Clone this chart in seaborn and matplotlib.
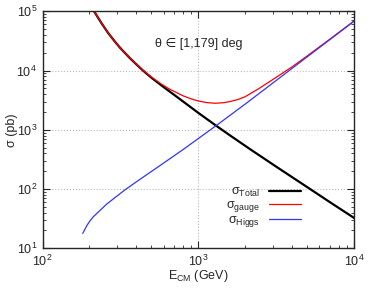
import matplotlib
matplotlib.use("Agg")
import numpy as np
import pandas as pd
import seaborn as sns
import matplotlib.pyplot as plt

# values (E in GeV, sigma in pb)
E_total = [214, 227, 240, 264, 290, 313, 364, 440, 500, 580, 658, 800, 1000, 1280, 1600, 2148, 3162, 5000, 7000, 10000]
sig_total = [1.0e5, 7.78e4, 6.17e4, 4.27e4, 3.12e4, 2.45e4, 1.61e4, 1.005e4, 7.57e3, 5.6e3, 4.38e3, 2.99e3,
             1.93e3, 1.21e3, 8.02e2, 4.72e2, 2.39e2, 1.08e2, 6.01e1, 3.26e1]

E_gauge = [214, 227, 240, 264, 290, 313, 364, 440, 500, 580, 658, 800, 900, 1000, 1130, 1280, 1450, 1600,
           1800, 2000, 2430, 3162, 4000, 4966, 7000, 10000]
sig_gauge = [1.0e5, 7.78e4, 6.17e4, 4.27e4, 3.12e4, 2.45e4, 1.614e4, 1.014e4, 7.74e3, 5.89e3, 4.81e3, 3.73e3,
             3.32e3, 3.06e3, 2.88e3, 2.805e3, 2.864e3, 3.0e3, 3.25e3, 3.62e3, 4.9e3, 7.674e3, 1.153e4,
             1.738e4, 3.388e4, 6.855e4]

E_higgs = [181, 192, 200, 211, 258, 338, 422, 552, 800, 1280, 2000, 3162, 5000, 7000, 10000]
sig_higgs = [17.9, 24.0, 28.3, 33.8, 55.8, 97.0, 146, 237, 466, 1138, 2716, 6792, 16980, 33270, 67920]

sns.set_style("ticks")
plt.rcParams["font.family"] = ["Liberation Sans", "DejaVu Sans"]
plt.rcParams["mathtext.fontset"] = "custom"
plt.rcParams["mathtext.rm"] = "Liberation Sans"
plt.rcParams["mathtext.it"] = "Liberation Sans:italic"
plt.rcParams["font.size"] = 9

fig = plt.figure(figsize=(3.74, 2.97), dpi=100)
ax = fig.add_axes([0.114, 0.164, 0.8325, 0.798])

sns.lineplot(x=E_total, y=sig_total, ax=ax, color="black", lw=1.6,
             sort=False, estimator=None, label=r"σ$_{\mathrm{Total}}$")
sns.lineplot(x=E_gauge, y=sig_gauge, ax=ax, color="#ff0000", lw=0.9,
             sort=False, estimator=None, label=r"σ$_{\mathrm{gauge}}$")
sns.lineplot(x=E_higgs, y=sig_higgs, ax=ax, color="#3333ff", lw=0.9,
             sort=False, estimator=None, label=r"σ$_{\mathrm{Higgs}}$")

ax.set_xscale("log")
ax.set_yscale("log")
ax.set_xlim(100, 10000)
ax.set_ylim(10, 1e5)
ax.grid(which="major", ls=":", color="#bbbbbb", lw=0.8)
ax.tick_params(which="both", direction="in", top=True, right=True, labelsize=9, pad=4)
ax.tick_params(which="major", length=5, width=0.8)
ax.tick_params(which="minor", length=2.5, width=0.6)
for s in ax.spines.values():
    s.set_linewidth(1.0)

ax.set_xlabel(r"E$_{\mathrm{CM}}$ (GeV)", fontsize=9, labelpad=-1)
ax.set_ylabel("σ (pb)", fontsize=9, labelpad=-1)

ax.text(0.5, 0.86, "θ ∈ [1,179] deg", transform=ax.transAxes, ha="center", va="center", fontsize=9)

ax.legend(loc="lower right", bbox_to_anchor=(0.83, 0.08), frameon=False, markerfirst=False,
          handlelength=2.6, handletextpad=0.7, labelspacing=0.0, borderpad=0, borderaxespad=0, fontsize=9)

fig.savefig("out.png", dpi=100)
